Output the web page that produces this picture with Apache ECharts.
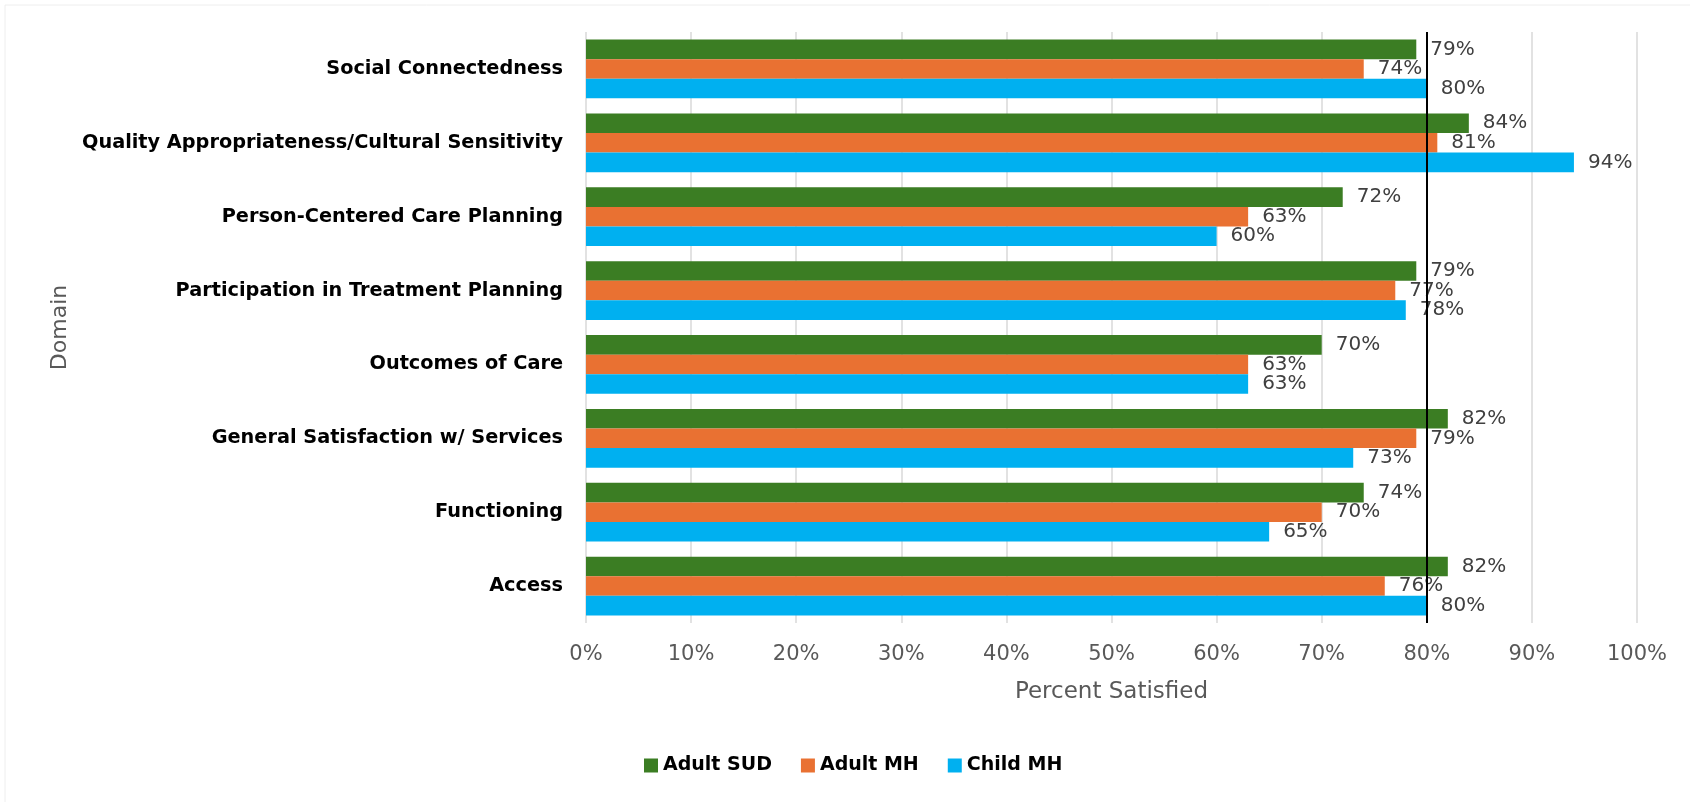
<!DOCTYPE html>
<html>
<head>
<meta charset="utf-8">
<script src="https://cdn.jsdelivr.net/npm/echarts@6/dist/echarts.min.js"></script>
<style>
  html, body { margin: 0; padding: 0; background: #ffffff; }
  #chart { width: 1690px; height: 802px; }
</style>
</head>
<body>
<div id="chart"></div>
<script>
// Survey domains, listed top to bottom
const domains = [
  'Social Connectedness',
  'Quality Appropriateness/Cultural Sensitivity',
  'Person-Centered Care Planning',
  'Participation in Treatment Planning',
  'Outcomes of Care',
  'General Satisfaction w/ Services',
  'Functioning',
  'Access'
];

// Percent satisfied per population
const adultSUD = [79, 84, 72, 79, 70, 82, 74, 82];
const adultMH  = [74, 81, 63, 77, 63, 79, 70, 76];
const childMH  = [80, 94, 60, 78, 63, 73, 65, 80];

// Benchmark line
const benchmark = 80;

// Value axis ticks
const axisMin = 0, axisMax = 100, axisStep = 10;

const FONT = '"DejaVu Sans", sans-serif';

const chart = echarts.init(document.getElementById('chart'), null, { renderer: 'canvas' });

const labelStyle = {
  show: true,
  position: 'right',
  distance: 14,
  formatter: p => p.value + '%',
  color: '#404040',
  fontFamily: FONT,
  fontSize: 20
};

function barSeries(name, data, color) {
  return {
    name: name,
    type: 'bar',
    data: data,
    barGap: '0%',
    barCategoryGap: '20.5%',
    itemStyle: { color: color },
    label: labelStyle,
    emphasis: { disabled: true }
  };
}

const series = [
  barSeries('Adult SUD', adultSUD, '#3B7D23'),
  barSeries('Adult MH', adultMH, '#E97132'),
  barSeries('Child MH', childMH, '#00B0F0')
];

series[2].markLine = {
  silent: true,
  symbol: 'none',
  label: { show: false },
  lineStyle: { color: '#000000', width: 2, type: 'solid' },
  data: [{ xAxis: benchmark }]
};

chart.setOption({
  animation: false,
  textStyle: { fontFamily: FONT },
  graphic: [{
    type: 'rect',
    shape: { x: 5, y: 5, width: 2000, height: 2000 },
    style: { fill: 'none', stroke: '#eeeeee', lineWidth: 1 },
    silent: true
  }],
  grid: { left: 586, right: 53, top: 32, bottom: 179 },
  legend: {
    left: 639,
    top: 751,
    itemWidth: 14,
    itemHeight: 14,
    itemGap: 29,
    icon: 'rect',
    selectedMode: false,
    textStyle: { color: '#000000', fontWeight: 'bold', fontSize: 19, fontFamily: FONT },
    data: ['Adult SUD', 'Adult MH', 'Child MH']
  },
  xAxis: {
    type: 'value',
    min: axisMin,
    max: axisMax,
    interval: axisStep,
    name: 'Percent Satisfied',
    nameLocation: 'middle',
    nameGap: 58,
    nameTextStyle: { color: '#595959', fontSize: 23, fontFamily: FONT },
    axisLine: { show: false },
    axisTick: { show: false },
    axisLabel: { formatter: '{value}%', color: '#595959', fontSize: 21, margin: 21, fontFamily: FONT },
    splitLine: { show: true, lineStyle: { color: '#d9d9d9', width: 1.5 } }
  },
  yAxis: {
    type: 'category',
    data: domains,
    inverse: true,
    name: 'Domain',
    nameLocation: 'middle',
    nameRotate: 90,
    nameGap: 515,
    nameTextStyle: { color: '#595959', fontSize: 22, fontFamily: FONT },
    axisLine: { show: false },
    axisTick: { show: false },
    axisLabel: { color: '#000000', fontWeight: 'bold', fontSize: 19.3, margin: 23, fontFamily: FONT },
    splitLine: { show: false }
  },
  series: series
});
</script>
</body>
</html>
